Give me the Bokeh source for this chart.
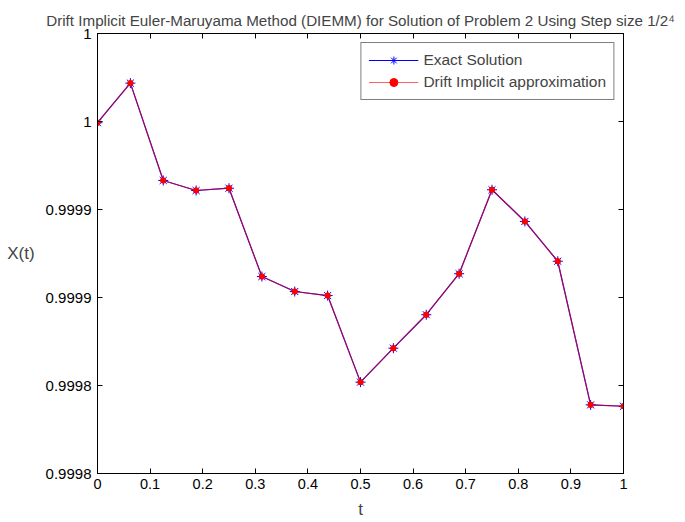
from bokeh.plotting import figure
from bokeh.models import FixedTicker, LinearAxis, Legend, LegendItem, Range1d
from bokeh.embed import file_html
from bokeh.resources import INLINE

t = [0.0, 0.0625, 0.125, 0.1875, 0.25, 0.3125, 0.375, 0.4375, 0.5,
     0.5625, 0.625, 0.6875, 0.75, 0.8125, 0.875, 0.9375, 1.0]
exact = [0.9999493, 0.9999718, 0.9999165, 0.9999108, 0.9999121, 0.9998619,
         0.9998534, 0.9998511, 0.9998019, 0.9998212, 0.9998402, 0.9998635,
         0.9999112, 0.9998932, 0.9998706, 0.9997890, 0.9997882]
approx = [0.9999493, 0.9999718, 0.9999165, 0.9999108, 0.9999121, 0.9998619,
          0.9998534, 0.9998511, 0.9998019, 0.9998212, 0.9998402, 0.9998635,
          0.9999112, 0.9998932, 0.9998706, 0.9997890, 0.9997882]

x_ticks = [0.0, 0.1, 0.2, 0.3, 0.4, 0.5, 0.6, 0.7, 0.8, 0.9, 1.0]
x_tick_labels = ["0", "0.1", "0.2", "0.3", "0.4", "0.5", "0.6", "0.7", "0.8", "0.9", "1"]
y_ticks = [0.99975, 0.9998, 0.99985, 0.9999, 0.99995, 1.0]
y_tick_labels = ["0.9998", "0.9998", "0.9999", "0.9999", "1", "1"]

title_text = "Drift Implicit Euler-Maruyama Method (DIEMM) for Solution of Problem 2 Using Step size 1/2\u2074"
FONT = "Liberation Sans"

p = figure(width=685, height=522, output_backend="svg", toolbar_location=None,
           x_range=Range1d(0, 1), y_range=Range1d(0.99975, 1.0),
           min_border_left=97, min_border_right=62, min_border_top=33, min_border_bottom=49)
p.background_fill_color = "white"
p.border_fill_color = "white"
p.outline_line_color = "black"
p.outline_line_width = 1
p.xgrid.grid_line_color = None
p.ygrid.grid_line_color = None

p.title.text = title_text
p.title.align = "center"
p.title.text_font = FONT
p.title.text_font_size = "15.2px"
p.title.text_font_style = "normal"
p.title.standoff = 9

def style_axis(ax, ticks, labels, size="15px", show_labels=True):
    ax.ticker = FixedTicker(ticks=ticks)
    ax.major_label_overrides = {tk: lb for tk, lb in zip(ticks, labels)}
    ax.major_tick_in = 5
    ax.major_tick_out = 0
    ax.minor_tick_line_color = None
    ax.axis_line_color = "black"
    ax.major_tick_line_color = "black"
    ax.major_label_text_font = FONT
    ax.major_label_text_color = "black"
    if show_labels:
        ax.major_label_text_font_size = size
    else:
        ax.major_label_text_font_size = "0px"
        ax.major_label_standoff = 0

style_axis(p.xaxis[0], x_ticks, x_tick_labels, size="14.5px")
style_axis(p.yaxis[0], y_ticks, y_tick_labels, size="15px")
p.xaxis[0].major_label_standoff = 5
p.yaxis[0].major_label_standoff = 6
p.xaxis[0].axis_label = "t"
p.xaxis[0].axis_label_text_font = FONT
p.xaxis[0].axis_label_text_font_size = "17px"
p.xaxis[0].axis_label_text_font_style = "normal"
p.xaxis[0].axis_label_standoff = 8

p.yaxis[0].axis_label = "X(t)"
p.yaxis[0].axis_label_text_font = FONT
p.yaxis[0].axis_label_text_font_size = "17px"
p.yaxis[0].axis_label_text_font_style = "normal"
p.yaxis[0].axis_label_standoff = 8
try:
    p.yaxis[0].axis_label_orientation = "horizontal"
except Exception:
    pass

top_ax = LinearAxis()
style_axis(top_ax, x_ticks, ["" for _ in x_ticks], show_labels=False)
p.add_layout(top_ax, "above")
right_ax = LinearAxis()
style_axis(right_ax, y_ticks, ["" for _ in y_ticks], show_labels=False)
p.add_layout(right_ax, "right")

l1 = p.line(t, exact, line_color="#0000ff", line_width=1.2)
m1 = p.scatter(t, exact, marker="asterisk", size=10, line_color="#0000ff", line_width=1)
l2 = p.line(t, approx, line_color="#ff0000", line_width=1.2, line_alpha=0.62)
m2 = p.scatter(t, approx, marker="circle", size=5.5, fill_color="#ff0000", line_color="#ff0000")

legend = Legend(items=[LegendItem(label="Exact Solution", renderers=[l1, m1]),
                       LegendItem(label="Drift Implicit approximation", renderers=[l2, m2])],
                location="top_right")
legend.margin = 9
legend.padding = 7
legend.spacing = 2
legend.glyph_width = 50
legend.glyph_height = 20
legend.label_height = 20
legend.label_standoff = 5
legend.label_text_font = FONT
legend.label_text_font_size = "15.5px"
legend.border_line_color = "black"
legend.border_line_width = 1
legend.background_fill_color = "white"
legend.background_fill_alpha = 1
p.add_layout(legend)

open("out.html", "w").write(file_html(p, INLINE))
